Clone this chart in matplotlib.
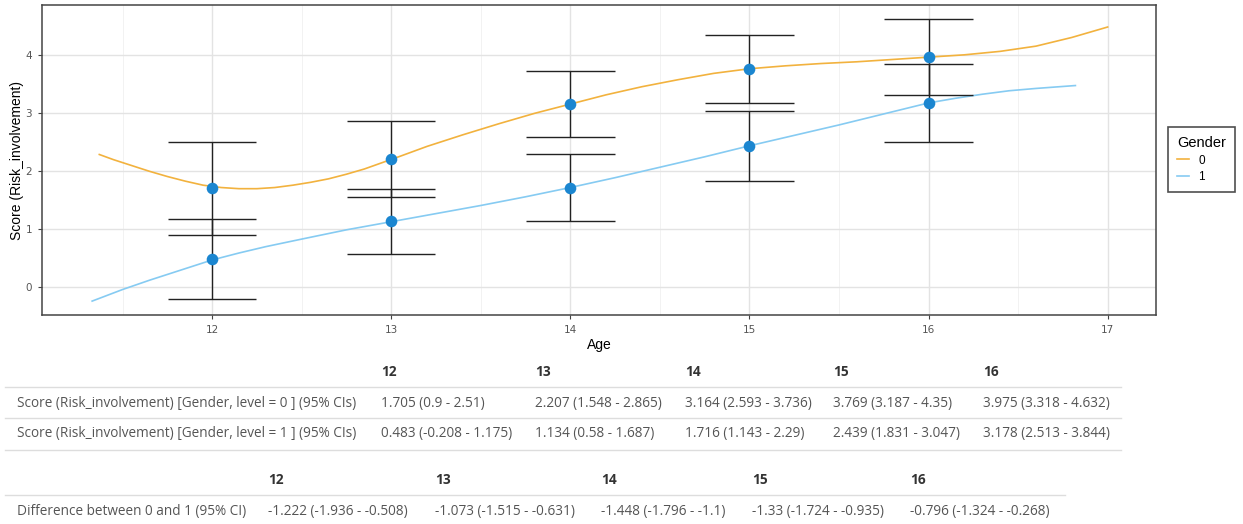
import matplotlib
matplotlib.use("Agg")
import matplotlib.pyplot as plt
from matplotlib.lines import Line2D
from matplotlib.ticker import MultipleLocator

# Estimated scores by age and gender, with 95% CIs
ages = [12, 13, 14, 15, 16]
est_0 = [1.705, 2.207, 3.164, 3.769, 3.975]
lo_0 = [0.9, 1.548, 2.593, 3.187, 3.318]
hi_0 = [2.51, 2.865, 3.736, 4.35, 4.632]
est_1 = [0.483, 1.134, 1.716, 2.439, 3.178]
lo_1 = [-0.208, 0.58, 1.143, 1.831, 2.513]
hi_1 = [1.175, 1.687, 2.29, 3.047, 3.844]

# Difference between genders
diff = [-1.222, -1.073, -1.448, -1.33, -0.796]
diff_lo = [-1.936, -1.515, -1.796, -1.724, -1.324]
diff_hi = [-0.508, -0.631, -1.1, -0.935, -0.268]

# Smoothed trajectories per gender
curve0_age = [11.37, 11.45, 11.55, 11.65, 11.75, 11.85, 11.95, 12.05, 12.15, 12.25,
              12.35, 12.45, 12.55, 12.65, 12.75, 12.85, 12.95, 13.05, 13.2, 13.4,
              13.6, 13.8, 14.0, 14.2, 14.4, 14.6, 14.8, 15.0, 15.2, 15.4, 15.6,
              15.8, 16.0, 16.2, 16.4, 16.6, 16.8, 16.9, 17.0]
curve0_val = [2.29, 2.20, 2.10, 2.00, 1.91, 1.83, 1.76, 1.72, 1.70, 1.70,
              1.72, 1.76, 1.81, 1.87, 1.95, 2.04, 2.15, 2.26, 2.43, 2.63,
              2.82, 3.00, 3.16, 3.32, 3.46, 3.58, 3.69, 3.77, 3.82, 3.86, 3.89,
              3.93, 3.97, 4.01, 4.07, 4.16, 4.31, 4.40, 4.49]
curve1_age = [11.33, 11.5, 11.65, 11.8, 11.9, 12.0, 12.15, 12.3, 12.5, 12.75,
              13.0, 13.25, 13.5, 13.75, 14.0, 14.25, 14.5, 14.75, 15.0, 15.25,
              15.5, 15.75, 16.0, 16.15, 16.3, 16.45, 16.6, 16.82]
curve1_val = [-0.24, -0.04, 0.12, 0.27, 0.37, 0.47, 0.59, 0.70, 0.83, 0.99,
              1.13, 1.27, 1.41, 1.56, 1.72, 1.89, 2.07, 2.25, 2.44, 2.62,
              2.80, 2.99, 3.18, 3.26, 3.33, 3.39, 3.43, 3.48]

W, H = 1243, 524
fig = plt.figure(figsize=(W / 100, H / 100), dpi=100)
ax = fig.add_axes([42 / W, 1 - 315 / H, (1156 - 42) / W, (315 - 5) / H])

c0 = "#F2B23E"
c1 = "#86CBF2"
pt = "#1B86D0"

ax.plot(curve0_age, curve0_val, color=c0, lw=1.2, zorder=3)
ax.plot(curve1_age, curve1_val, color=c1, lw=1.2, zorder=3)

for lo, hi in ((lo_0, hi_0), (lo_1, hi_1)):
    ax.vlines(ages, lo, hi, color="#222222", lw=1.0, zorder=4)
    for a, l, h in zip(ages, lo, hi):
        ax.hlines([l, h], a - 0.247, a + 0.247, color="#222222", lw=1.0, zorder=4)

ax.scatter(ages, est_0, s=70, color=pt, zorder=5, linewidths=0)
ax.scatter(ages, est_1, s=70, color=pt, zorder=5, linewidths=0)

ax.set_xlim(11.05, 17.27)
ax.set_ylim(-0.48, 4.87)
ax.set_xticks([12, 13, 14, 15, 16, 17])
ax.set_yticks([0, 1, 2, 3, 4])
ax.xaxis.set_minor_locator(MultipleLocator(0.5))
ax.grid(which="major", color="#e3e3e3", lw=1.0)
ax.grid(which="minor", axis="x", color="#f0f0f0", lw=0.6)
ax.set_axisbelow(True)
ax.tick_params(which="major", length=3, color="#444444", labelsize=7.5,
               labelcolor="#555555", pad=4)
ax.tick_params(which="minor", length=0)
for s in ax.spines.values():
    s.set_color("#444444")
    s.set_linewidth(1.1)

ax.set_xlabel("Age", fontsize=10, family="Liberation Sans", labelpad=2)
ax.set_ylabel("Score (Risk_involvement)", fontsize=10, family="Liberation Sans", labelpad=1)

handles = [Line2D([], [], color=c0, lw=1.2), Line2D([], [], color=c1, lw=1.2)]
leg = fig.legend(handles, ["0", "1"], title="Gender", loc="upper left",
                 bbox_to_anchor=(1168 / W, 1 - 127 / H), borderaxespad=0,
                 frameon=True, fancybox=False, handlelength=1.0, handletextpad=0.8,
                 prop={"family": "Liberation Sans", "size": 8.5},
                 title_fontproperties={"family": "Liberation Sans", "size": 10.5},
                 borderpad=0.75, labelspacing=0.4)
leg.get_frame().set_edgecolor("#222222")
leg.get_frame().set_linewidth(1.2)
leg._legend_box.align = "left"


def fx(px):
    return px / W


def fy(py):
    return 1 - py / H


def fmt(e, l, h):
    return f"{e:g} ({l:g} - {h:g})"


font = "Open Sans"
txt_col = "#555555"
head_col = "#333333"
line_col = "#dddddd"
fs = 9.8

# first table: estimates per gender
col1_x = [381, 535, 685, 833, 983]
for a, x in zip(ages, col1_x):
    fig.text(fx(x), fy(372), str(a), fontsize=fs, fontweight="bold",
             color=head_col, family=font, va="center")
rows = [
    ("Score (Risk_involvement) [Gender, level = 0 ] (95% CIs)", est_0, lo_0, hi_0, 403),
    ("Score (Risk_involvement) [Gender, level = 1 ] (95% CIs)", est_1, lo_1, hi_1, 434),
]
for label, e, l, h, y in rows:
    fig.text(fx(17), fy(y), label, fontsize=fs, color=txt_col, family=font, va="center")
    for x, ee, ll, hh in zip(col1_x, e, l, h):
        fig.text(fx(x), fy(y), fmt(ee, ll, hh), fontsize=fs, color=txt_col,
                 family=font, va="center")
for y in (387, 418, 449.5):
    fig.add_artist(Line2D([fx(5), fx(1121)], [fy(y), fy(y)], color=line_col, lw=1.0))

# second table: gender difference
col2_x = [268, 435, 601, 752, 910]
for a, x in zip(ages, col2_x):
    fig.text(fx(x), fy(480), str(a), fontsize=fs, fontweight="bold",
             color=head_col, family=font, va="center")
fig.text(fx(17), fy(511), "Difference between 0 and 1 (95% CI)", fontsize=fs,
         color=txt_col, family=font, va="center")
for x, ee, ll, hh in zip(col2_x, diff, diff_lo, diff_hi):
    fig.text(fx(x), fy(511), fmt(ee, ll, hh), fontsize=fs, color=txt_col,
             family=font, va="center")
fig.add_artist(Line2D([fx(5), fx(1065)], [fy(494.5), fy(494.5)], color=line_col, lw=1.0))

fig.savefig("out.png", dpi=100)
